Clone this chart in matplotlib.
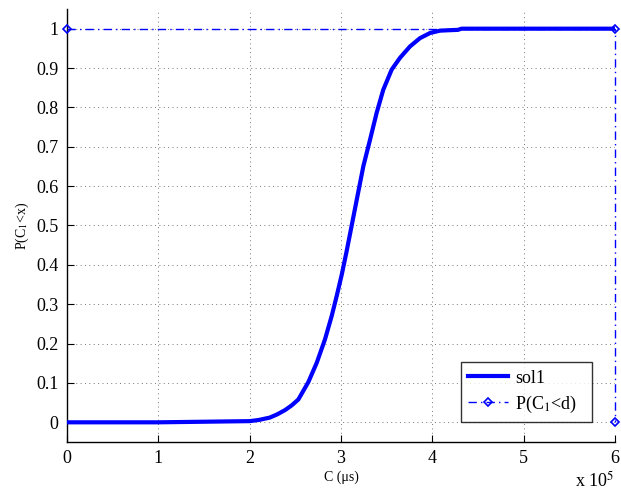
import matplotlib
matplotlib.use("Agg")
import matplotlib.pyplot as plt
import numpy as np

# CDF curve (x in units of 1e5 microseconds)
cdf_x = [0.0, 1.0, 2.0, 2.1, 2.22, 2.3, 2.387, 2.46, 2.533, 2.642, 2.734, 2.825, 2.898, 2.953,
         3.008, 3.062, 3.117, 3.172, 3.245, 3.318, 3.39, 3.463, 3.555, 3.646, 3.756, 3.865,
         3.975, 4.084, 4.175, 4.28, 4.32, 5.0, 6.0]
cdf_y = [0.0, 0.0, 0.003, 0.006, 0.012, 0.02, 0.031, 0.043, 0.058, 0.102, 0.151, 0.211, 0.27, 0.321,
         0.375, 0.435, 0.5, 0.565, 0.651, 0.718, 0.786, 0.845, 0.896, 0.926, 0.955, 0.976,
         0.989, 0.995, 0.996, 0.997, 1.0, 1.0, 1.0]

# Deadline probability line
d_x = [0.0, 6.0, 6.0]
d_y = [1.0, 1.0, 0.0]

xticks = [0, 1, 2, 3, 4, 5, 6]
yticks = [0, 0.1, 0.2, 0.3, 0.4, 0.5, 0.6, 0.7, 0.8, 0.9, 1]
ytick_labels = ["0", "0.1", "0.2", "0.3", "0.4", "0.5", "0.6", "0.7", "0.8", "0.9", "1"]

plt.rcParams['font.family'] = ['Liberation Serif', 'DejaVu Serif']
plt.rcParams['mathtext.fontset'] = 'stix'

fig = plt.figure(figsize=(6.21, 4.90), dpi=100)
ax = fig.add_axes([67/621, 48/490, 548/621, 433/490])

ax.plot(np.array(cdf_x) * 1e5, cdf_y, color='#0000ff', lw=3, label='sol1', zorder=3,
        solid_joinstyle='round')
ax.plot(np.array(d_x) * 1e5, d_y, color='#0000ff', lw=1, ls=(0, (6, 3, 1, 3)), marker='D', ms=4,
        mfc='none', mec='#0000ff', mew=1.2, label=r'P(C$_1$<d)', zorder=4, clip_on=False)

ax.set_xlim(0, 6e5)
ax.set_ylim(-0.05, 1.05)
ax.set_xticks([t * 1e5 for t in xticks])
ax.set_xticklabels([str(t) for t in xticks])
ax.set_yticks(yticks)
ax.set_yticklabels(ytick_labels)
ax.tick_params(direction='in', labelsize=13, length=5, width=0.8, pad=6)
ax.grid(True, ls=(0, (1, 3.5)), color='#777777', lw=0.7)

for s in ['top', 'right']:
    ax.spines[s].set_visible(False)
for s in ['left', 'bottom']:
    ax.spines[s].set_linewidth(1.0)

ax.set_xlabel('C (μs)', fontsize=10, labelpad=2)
ax.set_ylabel(r'P(C$_1$<x)', fontsize=10, labelpad=4)

fig.text(575/621, 1 - 481/490, r'x 10$^5$', fontsize=13, ha='left', va='center')

leg = ax.legend(loc='lower left', bbox_to_anchor=(0.719, 0.046, 0.239, 0.166), mode='expand',
                fontsize=13, frameon=True, fancybox=False, borderaxespad=0,
                handlelength=2.2, handletextpad=0.4, borderpad=0.4, labelspacing=0.4)
leg.get_frame().set_edgecolor('black')
leg.get_frame().set_linewidth(1.0)

fig.savefig('out.png', dpi=100)
